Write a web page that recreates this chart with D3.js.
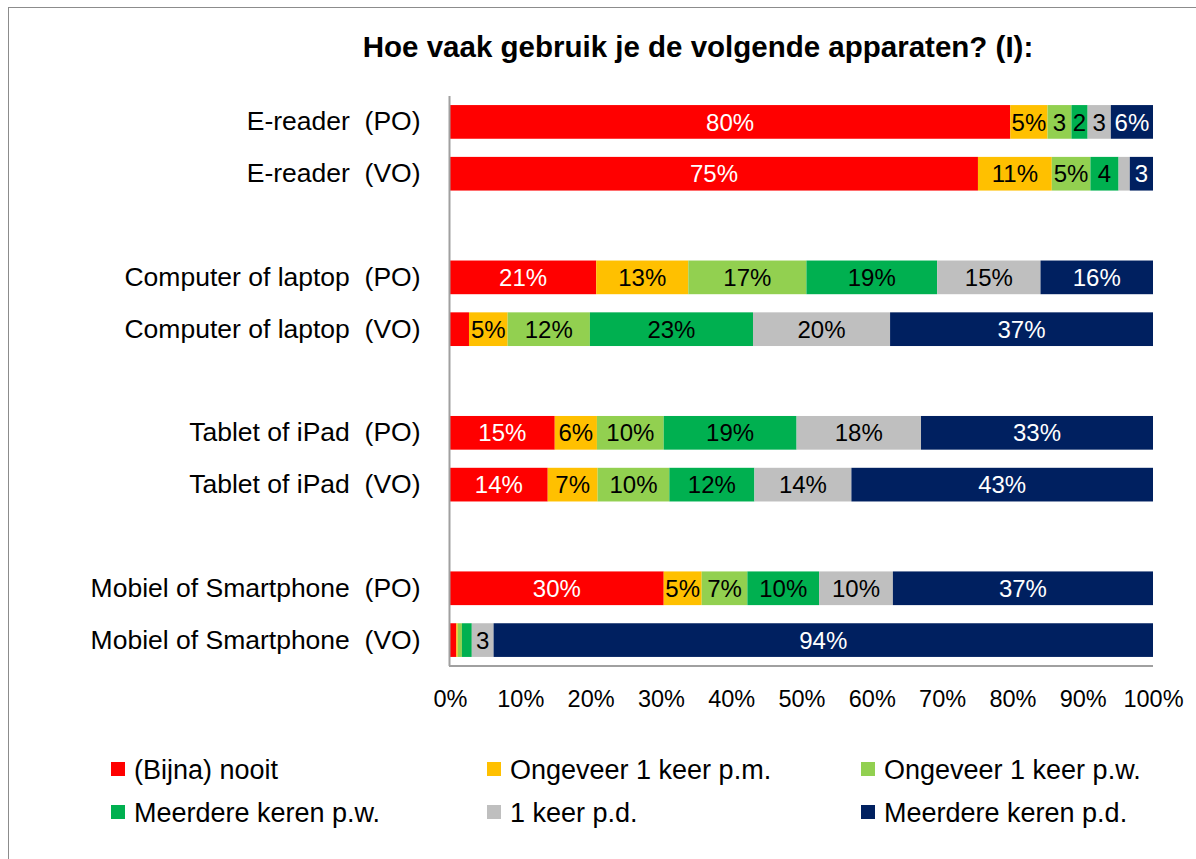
<!DOCTYPE html>
<html>
<head>
<meta charset="utf-8">
<script src="https://cdn.jsdelivr.net/npm/d3@7"></script>
<style>
  body { margin: 0; background: #fff; }
  svg { display: block; }
  text { font-family: "Liberation Sans", Arial, sans-serif; white-space: pre; }
</style>
</head>
<body>
<div id="chart"></div>
<script>
const width = 1196;
const height = 859;

// rows top to bottom, blank strings are spacer rows between the groups
const categories = [
    "E-reader  (PO)", "E-reader  (VO)", "",
    "Computer of laptop  (PO)", "Computer of laptop  (VO)", " ",
    "Tablet of iPad  (PO)", "Tablet of iPad  (VO)", "   ",
    "Mobiel of Smartphone  (PO)", "Mobiel of Smartphone  (VO)"
];

const seriesNames = [
    "(Bijna) nooit", "Ongeveer 1 keer p.m.", "Ongeveer 1 keer p.w.",
    "Meerdere keren p.w.", "1 keer p.d.", "Meerdere keren p.d."
];
const seriesColors = ["#ff0000", "#ffc000", "#92d050", "#00b050", "#bfbfbf", "#002060"];
const labelColors = ["#fff", "#000", "#000", "#000", "#000", "#fff"];

// share per device (percent), one value per series
const values = {
    "E-reader  (PO)":             [79.7, 5.3, 3.4, 2.3, 3.3, 6.0],
    "E-reader  (VO)":             [75.1, 10.5, 5.5, 4.0, 1.6, 3.3],
    "Computer of laptop  (PO)":   [20.8, 13.1, 16.8, 18.6, 14.7, 16.0],
    "Computer of laptop  (VO)":   [2.7, 5.5, 11.7, 23.2, 19.5, 37.4],
    "Tablet of iPad  (PO)":       [14.9, 6.0, 9.5, 18.9, 17.7, 33.0],
    "Tablet of iPad  (VO)":       [13.9, 7.1, 10.2, 12.1, 13.8, 42.9],
    "Mobiel of Smartphone  (PO)": [30.4, 5.4, 6.5, 10.2, 10.5, 37.0],
    "Mobiel of Smartphone  (VO)": [0.9, 0.2, 0.6, 1.4, 3.1, 93.8]
};

// data labels as shown in the bars
const labels = {
    "E-reader  (PO)":             ["80%", "5%", "3", "2", "3", "6%"],
    "E-reader  (VO)":             ["75%", "11%", "5%", "4", "", "3"],
    "Computer of laptop  (PO)":   ["21%", "13%", "17%", "19%", "15%", "16%"],
    "Computer of laptop  (VO)":   ["", "5%", "12%", "23%", "20%", "37%"],
    "Tablet of iPad  (PO)":       ["15%", "6%", "10%", "19%", "18%", "33%"],
    "Tablet of iPad  (VO)":       ["14%", "7%", "10%", "12%", "14%", "43%"],
    "Mobiel of Smartphone  (PO)": ["30%", "5%", "7%", "10%", "10%", "37%"],
    "Mobiel of Smartphone  (VO)": ["", "", "", "", "3", "94%"]
};

const xTicks = d3.range(0, 101, 10);

const svg = d3.select("#chart")
    .append("svg")
    .attr("width", width)
    .attr("height", height);

// chart frame
svg.append("rect")
    .attr("x", 8.5).attr("y", 7.5)
    .attr("width", width + 20).attr("height", height + 20)
    .attr("fill", "none")
    .attr("stroke", "#8c8c8c");

svg.append("text")
    .attr("x", 698)
    .attr("y", 57)
    .attr("text-anchor", "middle")
    .attr("font-size", 29.5)
    .attr("font-weight", "bold")
    .text("Hoe vaak gebruik je de volgende apparaten? (I):");

const x = d3.scaleLinear().domain([0, 100]).range([450, 1153]);
const y = d3.scaleBand()
    .domain(categories)
    .range([96, 666])
    .paddingInner(0.35)
    .paddingOuter(0.175);

// stacked segments
const rows = categories.filter(c => values[c]);
const segs = [];
rows.forEach(c => {
    let acc = 0;
    values[c].forEach((v, i) => {
        segs.push({ cat: c, i: i, x0: acc, x1: acc + v, label: labels[c][i] });
        acc += v;
    });
});

svg.append("g")
    .selectAll("rect")
    .data(segs)
    .join("rect")
    .attr("x", d => x(d.x0))
    .attr("y", d => y(d.cat))
    .attr("width", d => x(d.x1) - x(d.x0))
    .attr("height", y.bandwidth())
    .attr("fill", d => seriesColors[d.i]);

svg.append("g")
    .selectAll("text")
    .data(segs.filter(d => d.label))
    .join("text")
    .attr("x", d => (x(d.x0) + x(d.x1)) / 2)
    .attr("y", d => y(d.cat) + y.bandwidth() / 2)
    .attr("dy", "0.36em")
    .attr("text-anchor", "middle")
    .attr("font-size", 24)
    .attr("fill", d => labelColors[d.i])
    .text(d => d.label);

// axes
const yAxis = d3.axisLeft(y).tickSize(0).tickPadding(29);
const gy = svg.append("g")
    .attr("transform", "translate(449.5,0)")
    .call(yAxis);
gy.select(".domain").attr("stroke", "#a0a0a0").attr("stroke-width", 2)
    .attr("d", "M0,96V666");
gy.selectAll("text")
    .attr("font-size", 26.5)
    .attr("fill", "#000");

const xAxis = d3.axisBottom(x)
    .tickValues(xTicks)
    .tickSize(0)
    .tickPadding(24)
    .tickFormat(d => d + "%");
const gx = svg.append("g")
    .attr("transform", "translate(0,666)")
    .call(xAxis);
gx.select(".domain").attr("stroke", "#a0a0a0").attr("stroke-width", 2)
    .attr("d", "M449,0H1153");
gx.selectAll("text")
    .attr("font-size", 23.5)
    .attr("fill", "#000");

// legend, 3 columns by 2 rows
const legendCols = [111, 487, 861];
const legendRows = [769, 812];
const legend = svg.append("g")
    .selectAll("g")
    .data(seriesNames)
    .join("g")
    .attr("transform", (d, i) => `translate(${legendCols[i % 3]},${legendRows[Math.floor(i / 3)]})`);

legend.append("rect")
    .attr("x", 0).attr("y", -7)
    .attr("width", 14).attr("height", 14)
    .attr("fill", (d, i) => seriesColors[i]);

legend.append("text")
    .attr("x", 23)
    .attr("dy", "0.36em")
    .attr("font-size", 27)
    .text(d => d);
</script>
</body>
</html>
